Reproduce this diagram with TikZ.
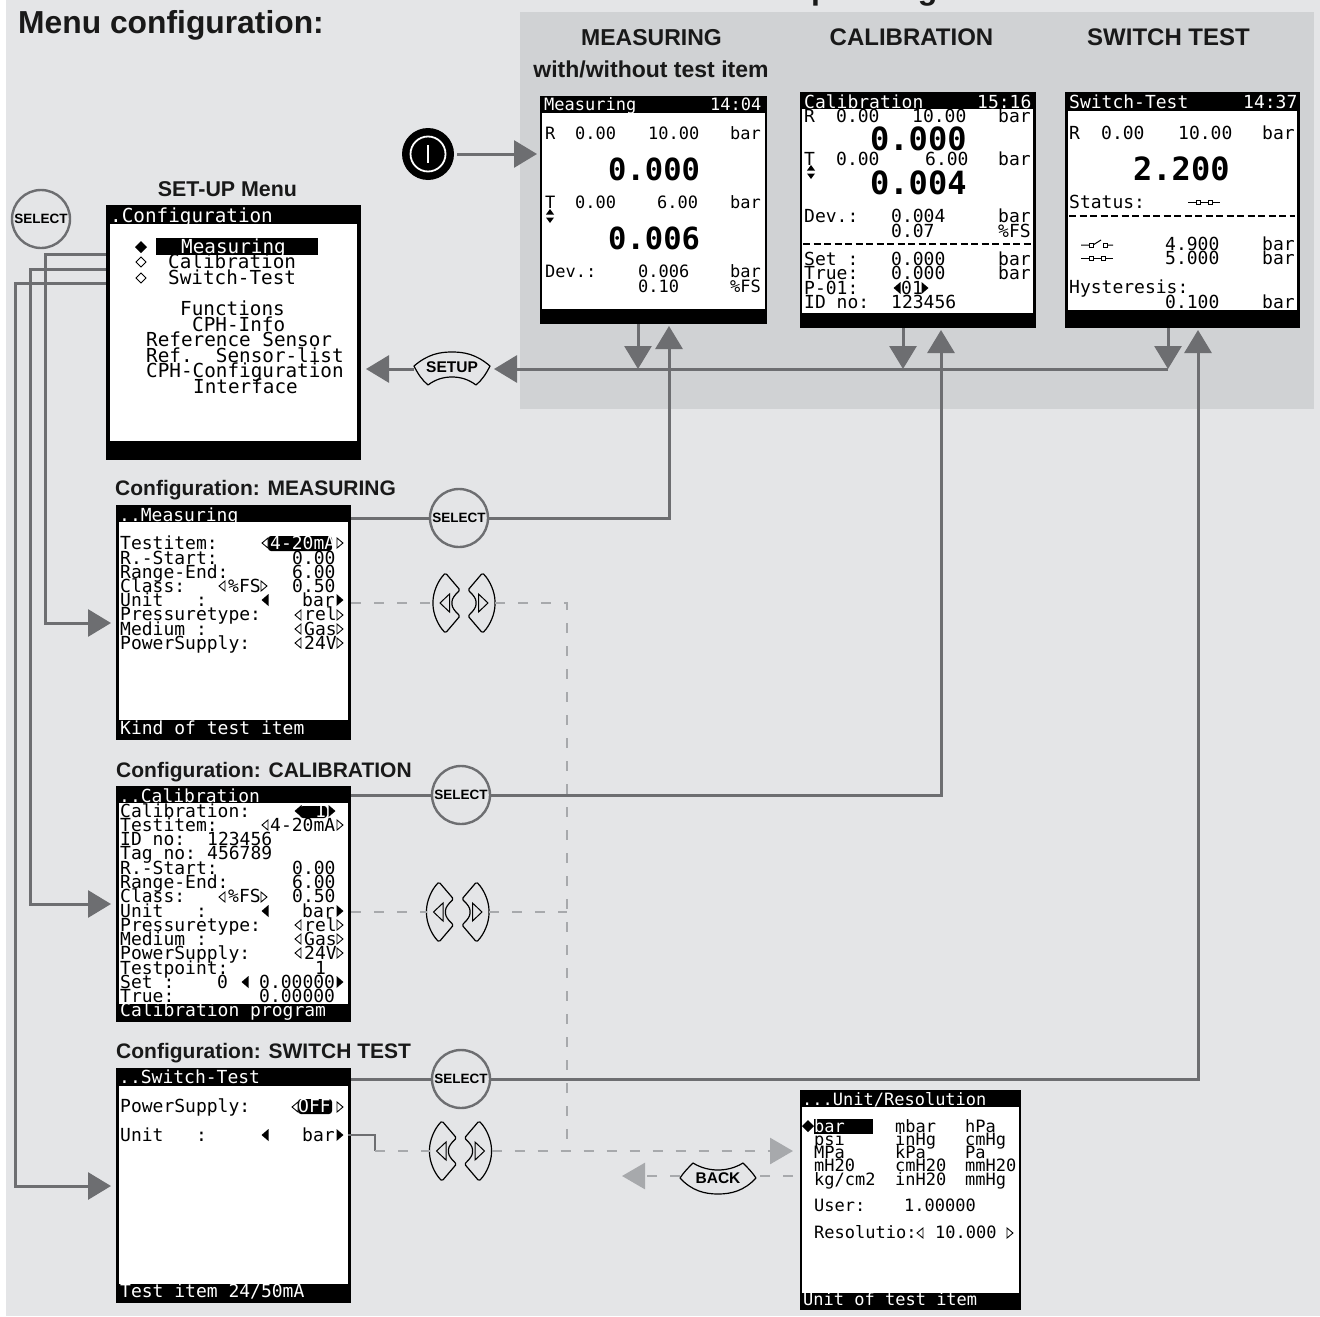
\documentclass[tikz,border=0pt]{standalone}
\usepackage{fontspec}
\setmainfont{Liberation Sans}
\newfontfamily\lcdf{DejaVu Sans Mono}
\usetikzlibrary{arrows.meta}
\definecolor{pagebg}{HTML}{E4E5E7}
\definecolor{panelbg}{HTML}{D0D2D4}
\definecolor{arrowgray}{HTML}{6D6E71}
\definecolor{dashgray}{HTML}{A7A9AC}
\newcounter{lcdn}
\def\lcdsize{18}
\tikzset{
  x=1pt,y=-1pt,
  lcdtxt/.style={anchor=base west,inner sep=0pt,font=\lcdf\fontsize{\lcdsize}{\lcdsize}\selectfont},
  lcdbig/.style={anchor=base west,inner sep=0pt,font=\lcdf\bfseries\fontsize{\lcdsize}{\lcdsize}\selectfont},
  head/.style={anchor=base,inner sep=0pt,font=\bfseries\fontsize{#1}{#1}\selectfont,text=black!90},
  headl/.style={anchor=base west,inner sep=0pt,font=\bfseries\fontsize{#1}{#1}\selectfont,text=black!90},
  screenbox/.style={fill=black,inner sep=0pt,outer sep=0pt},
  selectbtn/.style={circle,draw=arrowgray,line width=2.4pt,minimum size=58pt,inner sep=0pt,font=\bfseries\fontsize{13.5}{13.5}\selectfont},
  padlabel/.style={inner sep=0pt,outer sep=0pt,font=\bfseries\fontsize{15.5}{15.5}\selectfont},
  padline/.style={draw=black,line width=1.2pt,line join=round},
  conn/.style={draw=arrowgray,line width=3pt},
  connarrow/.style={conn,-{Triangle[length=23pt,width=27pt]}},
  dashconn/.style={draw=dashgray,line width=2.8pt,dash pattern=on 10pt off 13pt},
  dasharrow/.style={dashconn,-{Triangle[length=23pt,width=26pt]}},
}
\newcommand\lt[4][black]{\stepcounter{lcdn}\node[lcdtxt,text=#1] (t\arabic{lcdn}) at (#2,#3) {#4};}
\newcommand\lb[3]{\stepcounter{lcdn}\node[lcdbig] (t\arabic{lcdn}) at (#1,#2) {#3};}
% name, x1,y1,x2,y2, inner x1,y1,x2,y2
\newcommand\scr[9]{%
  \pgfmathsetmacro\scrw{#4-#2}\pgfmathsetmacro\scrh{#5-#3}%
  \node[screenbox,minimum width=\scrw pt,minimum height=\scrh pt] (#1) at ({(#2+#4)/2},{(#3+#5)/2}) {};
  \fill[white] (#6,#7) rectangle (#8,#9);
}
\newcommand\hl[2]{\draw[black,line width=0.9pt,fill=white] (#1+3,#2-5) -- (#1-3,#2) -- (#1+3,#2+5) -- cycle;}
\newcommand\hr[2]{\draw[black,line width=0.9pt,fill=white] (#1-3,#2-5) -- (#1+3,#2) -- (#1-3,#2+5) -- cycle;}
\newcommand\fl[2]{\fill[black] (#1+3.5,#2-6) -- (#1-3.5,#2) -- (#1+3.5,#2+6) -- cycle;}
\newcommand\fr[2]{\fill[black] (#1-3.5,#2-6) -- (#1+3.5,#2) -- (#1-3.5,#2+6) -- cycle;}
\newcommand\updn[2]{\fill[black] (#1-4,#2-1.5) -- (#1,#2-7) -- (#1+4,#2-1.5) -- cycle; \fill[black] (#1-4,#2+1.5) -- (#1,#2+7) -- (#1+4,#2+1.5) -- cycle;}
\newcommand\dia[2]{\draw[black,line width=1pt,fill=white] (#1-5,#2) -- (#1,#2-5) -- (#1+5,#2) -- (#1,#2+5) -- cycle;}
\newcommand\fdia[2]{\fill[black] (#1-6,#2) -- (#1,#2-6) -- (#1+6,#2) -- (#1,#2+6) -- cycle;}
\newcommand\swc[2]{\draw[black,line width=1pt] (#1,#2) -- (#1+32,#2); \draw[black,line width=1pt,fill=white] (#1+8,#2-2) rectangle (#1+12,#2+2); \draw[black,line width=1pt,fill=white] (#1+20,#2-2) rectangle (#1+24,#2+2);}
\newcommand\swo[2]{\draw[black,line width=1pt] (#1,#2) -- (#1+8,#2) (#1+12,#2) -- (#1+20,#2-5) (#1+24,#2) -- (#1+32,#2); \draw[black,line width=1pt,fill=white] (#1+8,#2-2) rectangle (#1+12,#2+2); \draw[black,line width=1pt,fill=white] (#1+22,#2-2) rectangle (#1+26,#2+2);}
% left/right arrow pad: name, x, y, dir (1 left pad, -1 right pad)
\newcommand\sidepad[4]{%
  \node[padlabel,minimum width=27pt,minimum height=60pt] (#1) at (#2,#3) {};
  \begin{scope}[shift={(#2,#3)},xscale=#4]
    \path[padline,fill=pagebg,rounded corners=1.5pt] (-1,-30) .. controls (-9,-22) and (-13.5,-10) .. (-13.5,0) .. controls (-13.5,10) and (-9,22) .. (-1,30) -- (13.5,13) .. controls (8,8) and (5.5,4) .. (5.5,0) .. controls (5.5,-4) and (8,-8) .. (13.5,-13) -- cycle;
    \draw[black,line width=1pt] (3,-9) -- (-6.5,0) -- (3,9) -- cycle;
  \end{scope}
}
\begin{document}
\begin{tikzpicture}
\clip (0,0) rectangle (1320,1317);
\fill[white] (0,0) rectangle (1320,1317);
\fill[pagebg] (6,0) rectangle (1320,1316);
\fill[panelbg] (520,12) rectangle (1314,409);

% titles
\node[headl=31.8] (titleMenu) at (18,34) {Menu configuration:};
\node[head=32] (titleOp) at (909,-1) {Operating mode};
\node[head=23] (hMeas) at (651.5,45) {MEASURING};
\node[head=23] (hMeas2) at (651,77) {with/without test item};
\node[head=24] (hCal) at (911.5,45) {CALIBRATION};
\node[head=24] (hSw) at (1168.5,45) {SWITCH TEST};
\node[head=21.4] (hSet) at (227.5,196) {SET-UP Menu};
\node[headl=21] (hCM) at (115,495) {Configuration: MEASURING};
\node[headl=21] (hCC) at (116,777) {Configuration: CALIBRATION};
\node[headl=21] (hCS) at (116,1058) {Configuration: SWITCH TEST};

% screens
\scr{sMeas}{540}{96}{767}{324}{542}{113}{765}{309}
\scr{sCal}{800}{92}{1036}{328}{802}{109}{1033}{313}
\scr{sSw}{1065}{92}{1300}{328}{1068}{111}{1297}{310}
\scr{sCfg}{106}{205}{361}{460}{110}{224}{357}{441}
\scr{cMeas}{116}{505}{351}{740}{119}{522}{348}{720}
\scr{cCal}{116}{786}{351}{1022}{119}{803}{348}{1004}
\scr{cSw}{116}{1068}{351}{1303}{119}{1086}{348}{1284}
\scr{sUnit}{800}{1090}{1021}{1310}{802}{1107}{1019}{1293}

% buttons
\node[selectbtn] (sel0) at (41,219) {SELECT};
\node[selectbtn] (sel1) at (459,518) {SELECT};
\node[selectbtn] (sel2) at (461,795) {SELECT};
\node[selectbtn] (sel3) at (461,1079) {SELECT};
\node[circle,fill=black,minimum size=52pt,inner sep=0pt] (power) at (428,154) {};
\draw[white,line width=1.8pt] (power.center) circle (17.5);
\draw[white,line width=1.8pt] (428,145) -- (428,163);

\node[padlabel,minimum width=76pt,minimum height=34pt] (setup) at (452,369) {};
\path[padline,fill=pagebg] (414,366) .. controls (428,354) and (440,352) .. (452,352) .. controls (464,352) and (476,354) .. (490,366) .. controls (486,374) and (482,380) .. (476,385) .. controls (468,379) and (460,377) .. (452,377) .. controls (444,377) and (436,379) .. (428,385) .. controls (422,380) and (418,374) .. (414,366) -- cycle;
\node[padlabel] (setupLbl) at (452,367) {SETUP};

\node[padlabel,minimum width=76pt,minimum height=34pt] (back) at (718,1176) {};
\path[padline,fill=pagebg] (680,1178) .. controls (684,1172) and (688,1168) .. (693,1163) .. controls (701,1168) and (710,1170) .. (718,1170) .. controls (726,1170) and (735,1168) .. (743,1163) .. controls (748,1168) and (752,1172) .. (756,1178) .. controls (744,1191) and (731,1194) .. (718,1194) .. controls (705,1194) and (692,1191) .. (680,1178) -- cycle;
\node[padlabel] (backLbl) at (718,1178) {BACK};

\sidepad{pL1}{446.5}{603}{1}
\sidepad{pR1}{481.5}{603}{-1}
\sidepad{pL2}{440}{912}{1}
\sidepad{pR2}{475.5}{912}{-1}
\sidepad{pL3}{443}{1151}{1}
\sidepad{pR3}{478}{1151}{-1}

% connector end coordinates
\coordinate (pwrOut) at (457,154);
\coordinate (pwrIn) at (537,154);
\coordinate (measDnA) at (638,324); \coordinate (measDnB) at (638,369);
\coordinate (calDnA) at (903,328); \coordinate (calDnB) at (903,369);
\coordinate (swDnA) at (1168,328); \coordinate (swDnB) at (1168,369);
\coordinate (measUp) at (669,326); \coordinate (calUp) at (941,330); \coordinate (swUp) at (1198,330);
\coordinate (m1) at (351,518); \coordinate (m2) at (351,795); \coordinate (m3) at (351,1079);
\coordinate (setupR) at (494,369); \coordinate (setupLTip) at (366,369);
\coordinate (cfgA) at (106,254); \coordinate (cfgB) at (106,269); \coordinate (cfgC) at (106,283);
\coordinate (inA) at (111,623); \coordinate (inB) at (111,904); \coordinate (inC) at (111,1186);
\coordinate (dM) at (351,603); \coordinate (dC) at (351,912); \coordinate (dS0) at (348,1135); \coordinate (dS1) at (375,1151);
\coordinate (jTop) at (567,603); \coordinate (jMid) at (567,912); \coordinate (jBot) at (567,1151);
\coordinate (unitIn) at (793,1151); \coordinate (unitOut) at (793,1176); \coordinate (backTip) at (622,1176);

% solid connectors
\draw[connarrow] (pwrOut) -- (pwrIn);
\draw[connarrow] (swDnA) -- (swDnB);
\draw[connarrow] (swDnB) -- (setupR);
\draw[connarrow] (measDnA) -- (measDnB);
\draw[connarrow] (calDnA) -- (calDnB);
\draw[connarrow] (setup.west) -- (setupLTip);
\draw[conn] (m1) -- (sel1);
\draw[conn] (m2) -- (sel2);
\draw[conn] (m3) -- (sel3);
\draw[connarrow] (sel1) -- (measUp |- sel1) -- (measUp);
\draw[connarrow] (sel2) -- (calUp |- sel2) -- (calUp);
\draw[connarrow] (sel3) -- (swUp |- sel3) -- (swUp);
\draw[connarrow] (cfgA) -| (45,623) -- (inA);
\draw[connarrow] (cfgB) -| (30,904) -- (inB);
\draw[connarrow] (cfgC) -| (15,1186) -- (inC);

% dashed connectors
\draw[dashconn] (dM) -- (pL1);
\draw[dashconn] (pR1) -- (jTop) -- (jBot);
\draw[dashconn] (dC) -- (pL2);
\draw[dashconn] (pR2) -- (jMid);
\draw[conn,line width=2.2pt] (dS0) -| (dS1);
\draw[dashconn] (dS1) -- (pL3);
\draw[dasharrow] (pR3) -- (unitIn);
\draw[dashconn] (unitOut) -- (back.east);
\draw[dasharrow] (back.west) -- (backTip);

% ---- Measuring screen
\def\lcdsize{17}
\lt[white]{544}{110}{Measuring}\lt[white]{710}{110}{14:04}
\lt{545}{139}{R}\lt{575}{139}{0.00}\lt{648}{139}{10.00}\lt{730}{139}{bar}
\lt{545}{208}{T}\lt{575}{208}{0.00}\lt{657}{208}{6.00}\lt{730}{208}{bar}
\updn{550}{216}
\lt{545}{277}{Dev.:}\lt{638}{277}{0.006}\lt{730}{277}{bar}
\lt{638}{292}{0.10}\lt{730}{292}{\%FS}
\def\lcdsize{30.5}
\lb{608}{180}{0.000}\lb{608}{249}{0.006}

% ---- Calibration screen
\def\lcdsize{18}
\lt[white]{804}{108}{Calibration}\lt[white]{977}{108}{15:16}
\lt{804}{122}{R}\lt{836}{122}{0.00}\lt{912}{122}{10.00}\lt{998}{122}{bar}
\lt{804}{165}{T}\lt{836}{165}{0.00}\lt{925}{165}{6.00}\lt{998}{165}{bar}
\updn{811}{172}
\lt{804}{222}{Dev.:}\lt{891}{222}{0.004}\lt{998}{222}{bar}
\lt{891}{237}{0.07}\lt{998}{237}{\%FS}
\draw[black,line width=1.2pt,dash pattern=on 7pt off 3.5pt] (803,244) -- (1032,244);
\lt{804}{265}{Set :}\lt{891}{265}{0.000}\lt{998}{265}{bar}
\lt{804}{279}{True:}\lt{891}{279}{0.000}\lt{998}{279}{bar}
\lt{804}{294}{P-01:}\fl{897}{288}\lt{901}{294}{01}\fr{925}{288}
\lt{804}{308}{ID no:}\lt{891}{308}{123456}
\def\lcdsize{32}
\lb{870}{150}{0.000}\lb{870}{194}{0.004}

% ---- Switch test screen
\def\lcdsize{18}
\lt[white]{1069}{108}{Switch-Test}\lt[white]{1243}{108}{14:37}
\lt{1069}{139}{R}\lt{1101}{139}{0.00}\lt{1178}{139}{10.00}\lt{1262}{139}{bar}
\lt{1069}{208}{Status:}\swc{1188}{202}
\draw[black,line width=1.2pt,dash pattern=on 7pt off 3.5pt] (1069,216) -- (1295,216);
\swo{1081}{245}\lt{1165}{250}{4.900}\lt{1262}{250}{bar}
\swc{1081}{258}\lt{1165}{264}{5.000}\lt{1262}{264}{bar}
\lt{1069}{293}{Hysteresis:}\lt{1165}{308}{0.100}\lt{1262}{308}{bar}
\def\lcdsize{32}
\lb{1133}{180}{2.200}

% ---- Set-up menu
\def\lcdsize{19.3}
\lt[white]{110}{222}{.Configuration}
\fill[black] (156,238) rectangle (318,255);
\fdia{141}{247}\dia{141}{262}\dia{141}{278}
\lt[white]{181}{253}{Measuring}
\lt{168}{268}{Calibration}
\lt{168}{284}{Switch-Test}
\lt{180}{315}{Functions}
\lt{192}{331}{CPH-Info}
\lt{146}{346}{Reference Sensor}
\lt{146}{362}{Ref.\ \ Sensor-list}
\lt{146}{377}{CPH-Configuration}
\lt{193}{393}{Interface}

% ---- Config measuring
\def\lcdsize{18}
\lt[white]{119}{521}{..Measuring}
\fill[black,rounded corners=3pt] (268,536) rectangle (332,551);
\lt{120}{549}{Testitem:}\hl{265}{543}\lt[white]{270}{549}{4-20mA}\hr{340}{543}
\lt{120}{564}{R.-Start:}\lt{292}{564}{0.00}
\lt{120}{578}{Range-End:}\lt{292}{578}{6.00}
\lt{120}{592}{Class:}\hl{222}{586}\lt{228}{592}{\%FS}\hr{264}{586}\lt{292}{592}{0.50}
\lt{120}{606}{Unit\ \ \ :}\fl{265}{600}\lt{302}{606}{bar}\fr{340}{600}
\lt{120}{620}{Pressuretype:}\hl{298}{615}\lt{304}{620}{rel}\hr{340}{615}
\lt{120}{635}{Medium :}\hl{298}{629}\lt{304}{635}{Gas}\hr{340}{629}
\lt{120}{649}{PowerSupply:}\hl{298}{643}\lt{304}{649}{24V}\hr{340}{643}
\lt[white]{120}{734}{Kind of test item}

% ---- Config calibration
\lt[white]{119}{802}{..Calibration}
\fill[black,rounded corners=3pt] (300,806) rectangle (327,818);
\fl{298}{811}\lt[white]{315}{817}{1}\fr{332}{811}
\lt{120}{817}{Calibration:}
\lt{120}{831}{Testitem:}\hl{265}{825}\lt{270}{831}{4-20mA}\hr{340}{825}
\lt{120}{845}{ID no:}\lt{207}{845}{123456}
\lt{120}{859}{Tag no:}\lt{207}{859}{456789}
\lt{120}{874}{R.-Start:}\lt{292}{874}{0.00}
\lt{120}{888}{Range-End:}\lt{292}{888}{6.00}
\lt{120}{902}{Class:}\hl{222}{897}\lt{228}{902}{\%FS}\hr{264}{897}\lt{292}{902}{0.50}
\lt{120}{917}{Unit\ \ \ :}\fl{265}{911}\lt{302}{917}{bar}\fr{340}{911}
\lt{120}{931}{Pressuretype:}\hl{298}{925}\lt{304}{931}{rel}\hr{340}{925}
\lt{120}{945}{Medium :}\hl{298}{939}\lt{304}{945}{Gas}\hr{340}{939}
\lt{120}{959}{PowerSupply:}\hl{298}{953}\lt{304}{959}{24V}\hr{340}{953}
\lt{120}{974}{Testpoint:}\lt{315}{974}{1}
\lt{120}{988}{Set :}\lt{217}{988}{0}\fl{245}{982}\lt{259}{988}{0.00000}\fr{340}{982}
\lt{120}{1002}{True:}\lt{259}{1002}{0.00000}
\lt[white]{120}{1016}{Calibration program}

% ---- Config switch test
\lt[white]{119}{1083}{..Switch-Test}
\fill[black,rounded corners=3pt] (298,1099) rectangle (332,1114);
\lt{120}{1112}{PowerSupply:}\hl{295}{1107}\lt[white]{298}{1112}{OFF}\hr{340}{1107}
\lt{120}{1141}{Unit\ \ \ :}\fl{265}{1135}\lt{302}{1141}{bar}\fr{340}{1135}
\lt[white]{120}{1297}{Test item 24/50mA}

% ---- Unit / resolution
\def\lcdsize{17}
\lt[white]{802}{1105}{...Unit/Resolution}
\fill[black] (814,1119) rectangle (873,1134);
\fdia{808}{1126}
\lt[white]{814}{1132}{bar}\lt{895}{1132}{mbar}\lt{965}{1132}{hPa}
\lt{814}{1145}{psi}\lt{895}{1145}{inHg}\lt{965}{1145}{cmHg}
\lt{814}{1158}{MPa}\lt{895}{1158}{kPa}\lt{965}{1158}{Pa}
\lt{814}{1171}{mH20}\lt{895}{1171}{cmH20}\lt{965}{1171}{mmH20}
\lt{814}{1185}{kg/cm2}\lt{895}{1185}{inH20}\lt{965}{1185}{mmHg}
\lt{814}{1211}{User:}\lt{904}{1211}{1.00000}
\lt{814}{1238}{Resolutio:}\hl{920}{1233}\lt{935}{1238}{10.000}\hr{1010}{1233}
\lt[white]{803}{1305}{Unit of test item}
\end{tikzpicture}
\end{document}
